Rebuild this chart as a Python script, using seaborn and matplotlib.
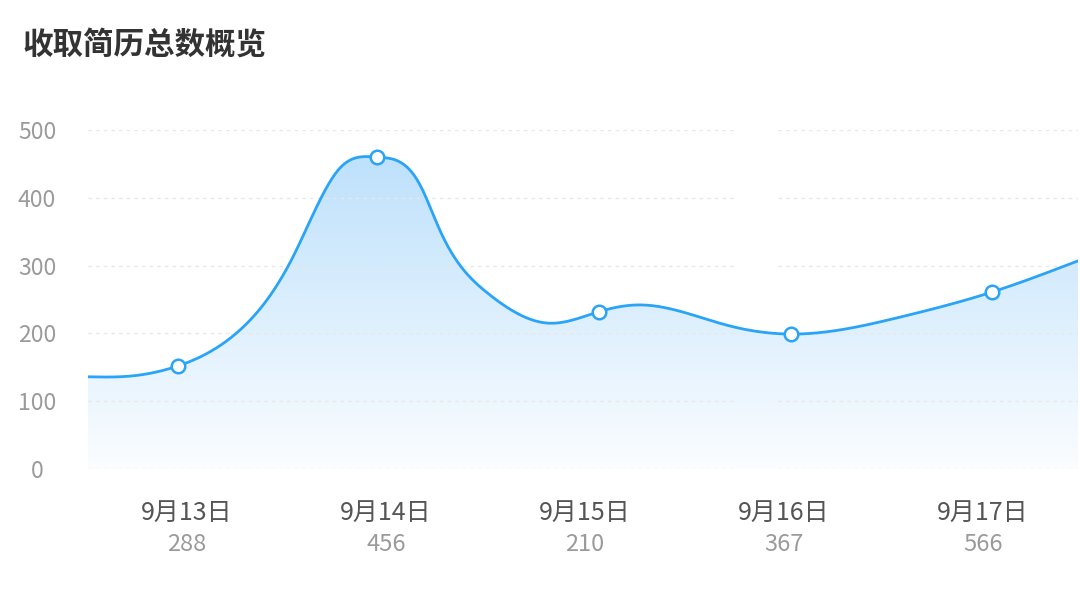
import numpy as np
import seaborn as sns
import matplotlib.pyplot as plt
from matplotlib.colors import LinearSegmentedColormap

sns.set_style("white")
plt.rcParams['font.family'] = ['Noto Sans CJK SC', 'DejaVu Sans']

title = '收取简历总数概览'
dates = ['9月13日', '9月14日', '9月15日', '9月16日', '9月17日']
totals = [288, 456, 210, 367, 566]

# point markers (x in category units)
marker_x = [-0.045, 0.955, 2.070, 3.035, 4.045]
marker_y = [152, 460, 232, 199, 261]

# knots of the smooth curve
curve_x = [-0.497, -0.286, -0.045, 0.251, 0.533, 0.769, 0.955, 1.171,
           1.271, 1.508, 1.824, 2.070, 2.276, 2.714, 3.035, 3.583, 4.045, 4.477]
curve_y = [136, 137, 152, 201, 313, 444, 460, 419,
           352, 260, 215, 232, 242, 212, 199, 224, 261, 307]

yticks = [0, 100, 200, 300, 400, 500]

line_c = '#2aa4f6'


def spline(xs, ys, n=1200):
    # natural cubic spline y(x) through the knots
    x = np.asarray(xs, float)
    y = np.asarray(ys, float)
    h = np.diff(x)
    m = len(x)
    A = np.zeros((m, m))
    r = np.zeros(m)
    A[0, 0] = A[-1, -1] = 1
    for i in range(1, m - 1):
        A[i, i - 1] = h[i - 1]
        A[i, i] = 2 * (h[i - 1] + h[i])
        A[i, i + 1] = h[i]
        r[i] = 6 * ((y[i + 1] - y[i]) / h[i] - (y[i] - y[i - 1]) / h[i - 1])
    M = np.linalg.solve(A, r)
    xx = np.linspace(x[0], x[-1], n)
    k = np.clip(np.searchsorted(x, xx) - 1, 0, m - 2)
    a = x[k + 1] - xx
    b = xx - x[k]
    hk = h[k]
    yy = (M[k] * a ** 3 + M[k + 1] * b ** 3) / (6 * hk) \
        + (y[k] / hk - M[k] * hk / 6) * a + (y[k + 1] / hk - M[k + 1] * hk / 6) * b
    return xx, yy


cx, cy = spline(curve_x, curve_y)
xlo, xhi = curve_x[0], curve_x[-1]

fig = plt.figure(figsize=(10.8, 5.93), dpi=100)
ax = fig.add_axes([0.0815, 0.2091, 0.9167, 0.5717])

# gradient area under the curve
poly = ax.fill_between(cx, cy, 0, color='none', lw=0)
cmap = LinearSegmentedColormap.from_list('area', ['#fbfdff', '#bee1fc'])
grad = np.linspace(0, 1, 256)[:, None]
im = ax.imshow(grad, extent=[xlo, xhi, 0, max(cy)], origin='lower',
               aspect='auto', cmap=cmap, zorder=1)
im.set_clip_path(poly.get_paths()[0], transform=ax.transData)

# dotted grid lines (with the gap seen in the reference)
for y in yticks:
    for a, b in [(0, 0.6515), (0.697, 1)]:
        ax.axhline(y, xmin=a, xmax=b, color='#e8e8e8', lw=1.0,
                   ls=(0, (2.5, 3)), zorder=2)

sns.lineplot(x=cx, y=cy, sort=False, estimator=None, color=line_c,
             lw=2, ax=ax, zorder=3)
sns.scatterplot(x=marker_x, y=marker_y, s=95, color='white',
                edgecolor=line_c, linewidth=1.8, ax=ax, zorder=4)

ax.set_xlim(xlo, xhi)
ax.set_ylim(0, 500)
ax.set_yticks(yticks)
ax.set_yticklabels([str(v) for v in yticks])
ax.set_xticks(range(len(dates)))
ax.set_xticklabels(dates)
ax.tick_params(axis='y', length=0, pad=36.7, labelsize=16.5, labelcolor='#9a9a9a')
ax.tick_params(axis='x', length=0, pad=22.5, labelsize=18, labelcolor='#555555')
for lab in ax.get_yticklabels():
    lab.set_ha('center')
for s in ax.spines.values():
    s.set_visible(False)

for i, n in enumerate(totals):
    ax.text(i, -0.222, str(n), transform=ax.get_xaxis_transform(),
            ha='center', va='center', fontsize=17, color='#9a9a9a')

fig.text(22 / 1080, 1 - 45 / 593, title, fontsize=22, fontweight='bold',
         color='#333333', va='center', ha='left')

fig.savefig('out.png', dpi=100)
